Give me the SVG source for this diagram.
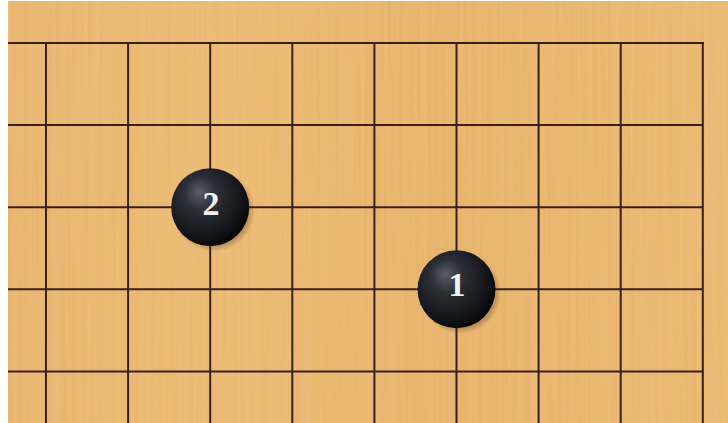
<svg xmlns="http://www.w3.org/2000/svg" width="728" height="423" viewBox="0 0 728 423">
<defs>
<linearGradient id="wood" x1="0" y1="0" x2="1" y2="0">
<stop offset="0" stop-color="#e8b46c"/>
<stop offset="0.3" stop-color="#ebba72"/>
<stop offset="0.6" stop-color="#e7b269"/>
<stop offset="1" stop-color="#eab870"/>
</linearGradient>
<filter id="grain" x="0" y="0" width="100%" height="100%">
<feTurbulence type="fractalNoise" baseFrequency="0.25 0.004" numOctaves="2" seed="3" result="n"/>
<feColorMatrix in="n" type="matrix" values="0 0 0 0 0.85  0 0 0 0 0.6  0 0 0 0 0.3  0 0 0 0.5 -0.12" result="c"/>
<feComposite in="c" in2="SourceGraphic" operator="in"/>
</filter>
<radialGradient id="stone" cx="0.4" cy="0.38" r="0.62" fx="0.36" fy="0.3">
<stop offset="0" stop-color="#5a5d66"/>
<stop offset="0.35" stop-color="#2c2e36"/>
<stop offset="0.8" stop-color="#15161b"/>
<stop offset="1" stop-color="#08080b"/>
</radialGradient>
<radialGradient id="shadow" cx="0.5" cy="0.5" r="0.5">
<stop offset="0.75" stop-color="#3a2408" stop-opacity="0.45"/>
<stop offset="1" stop-color="#3a2408" stop-opacity="0"/>
</radialGradient>
<style>
.grid line{stroke:#3a1e1e;stroke-width:2}
.lbl{font-family:"Liberation Serif","DejaVu Serif",serif;font-weight:bold;font-size:34px;fill:#f2f2f2;text-anchor:middle}
</style>
</defs>
<rect x="0" y="0" width="728" height="423" fill="#ffffff"/>
<rect id="board" x="8" y="1" width="720" height="422" fill="url(#wood)"/>
<rect x="8" y="1" width="720" height="422" fill="#ffffff" filter="url(#grain)"/>
<g id="grid" class="grid">
<line x1="8" y1="43" x2="703.8" y2="43"/>
<line x1="8" y1="125.1" x2="702.8" y2="125.1"/>
<line x1="8" y1="207.2" x2="702.8" y2="207.2"/>
<line x1="8" y1="289.3" x2="702.8" y2="289.3"/>
<line x1="8" y1="371.4" x2="702.8" y2="371.4"/>
<line x1="46" y1="42" x2="46" y2="423"/>
<line x1="128.1" y1="42" x2="128.1" y2="423"/>
<line x1="210.2" y1="42" x2="210.2" y2="423"/>
<line x1="292.3" y1="42" x2="292.3" y2="423"/>
<line x1="374.4" y1="42" x2="374.4" y2="423"/>
<line x1="456.5" y1="42" x2="456.5" y2="423"/>
<line x1="538.6" y1="42" x2="538.6" y2="423"/>
<line x1="620.7" y1="42" x2="620.7" y2="423"/>
<line x1="702.8" y1="42" x2="702.8" y2="423"/>
</g>
<g id="stone2">
<circle cx="214" cy="211" r="41" fill="url(#shadow)"/>
<circle cx="210.2" cy="207.2" r="39" fill="url(#stone)"/>
<text class="lbl" x="211" y="215">2</text>
</g>
<g id="stone1">
<circle cx="460.3" cy="293.1" r="41" fill="url(#shadow)"/>
<circle cx="456.5" cy="289.3" r="39" fill="url(#stone)"/>
<text class="lbl" x="457" y="296">1</text>
</g>
</svg>
